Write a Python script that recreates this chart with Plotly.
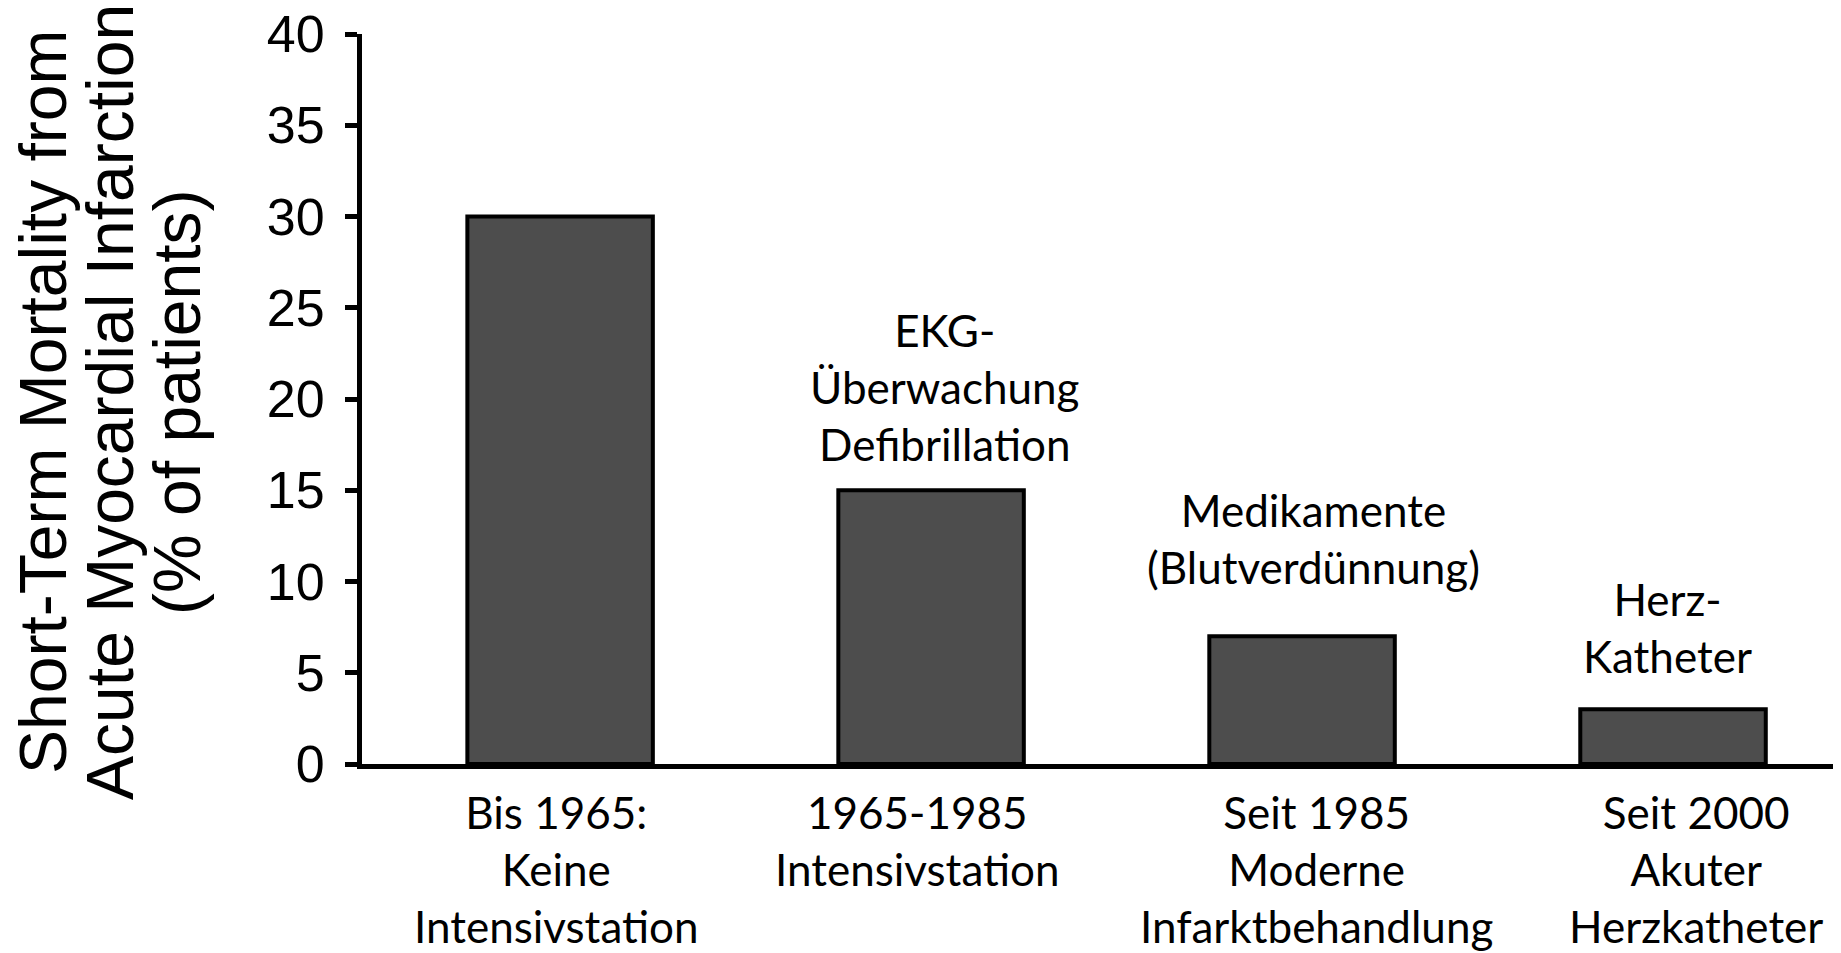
"""Short-term mortality from acute myocardial infarction by treatment era."""

import plotly.graph_objects as go

# ---------------------------------------------------------------------------
# Data
# ---------------------------------------------------------------------------
eras = [
    "Bis 1965:<br>Keine<br>Intensivstation",
    "1965-1985<br>Intensivstation",
    "Seit 1985<br>Moderne<br>Infarktbehandlung",
    "Seit 2000<br>Akuter<br>Herzkatheter",
]
mortality = [30, 15, 7, 3]
notes = [
    "",
    "EKG-<br>Überwachung<br>Defibrillation",
    "Medikamente<br>(Blutverdünnung)",
    "Herz-<br>Katheter",
]
y_ticks = [0, 5, 10, 15, 20, 25, 30, 35, 40]
y_title = [
    "Short-Term Mortality from",
    "Acute Myocardial Infarction",
    "(% of patients)",
]

# small hand offsets (px) so the texts sit like in the original figure
note_dx = [0, 14, 11, -6]
note_dy = [0, 18, 41, 25]
label_dx = [-4, -14, 14, 23]

LABEL_FONT = "Lato, 'Open Sans', sans-serif"
AXIS_FONT = "Arial, 'Liberation Sans', sans-serif"

x_pos = list(range(len(eras)))

fig = go.Figure()
fig.add_trace(go.Bar(
    x=x_pos, y=mortality, width=0.5,
    marker=dict(color="#4d4d4d", line=dict(color="black", width=4)),
    hoverinfo="skip",
))

# notes above bars
for i, (val, note) in enumerate(zip(mortality, notes)):
    if not note:
        continue
    fig.add_annotation(
        x=i, y=val, xshift=note_dx[i], yshift=note_dy[i],
        text=note, showarrow=False, yanchor="bottom", xanchor="center",
        font=dict(family=LABEL_FONT, size=44, color="black"),
    )

# category labels under the axis
for i, lab in enumerate(eras):
    fig.add_annotation(
        x=i, y=0, yref="paper", xshift=label_dx[i], yshift=-20,
        text=lab, showarrow=False, yanchor="top", xanchor="center",
        font=dict(family=LABEL_FONT, size=44, color="black"),
    )

# y-axis title as three rotated lines
for k, line in enumerate(y_title):
    fig.add_annotation(
        x=0, xref="paper", xanchor="center", xshift=-319 + k * 67,
        y=0.496, yref="paper", yanchor="middle",
        text=line, textangle=-90, showarrow=False,
        font=dict(family=AXIS_FONT, size=66, color="black"),
    )

# page body has an 8px margin, so the figure is drawn 8px smaller
fig.update_layout(
    width=1833, height=945,
    margin=dict(l=354, r=4, t=26, b=189),
    plot_bgcolor="white", paper_bgcolor="white",
    showlegend=False,
    xaxis=dict(
        range=[-0.534, 3.442], tickvals=x_pos, showticklabels=False,
        showline=True, linecolor="black", linewidth=5,
        ticks="", showgrid=False, zeroline=False, automargin=False,
    ),
    yaxis=dict(
        range=[0, 40], tickvals=y_ticks,
        tickfont=dict(family=AXIS_FONT, size=52, color="black"),
        showline=True, linecolor="black", linewidth=5,
        ticks="outside", ticklen=12, tickwidth=5, tickcolor="black",
        showgrid=False, zeroline=False, ticklabelstandoff=10,
        ticklabeloverflow="allow", automargin=False,
    ),
)

fig.write_html("out.html")
